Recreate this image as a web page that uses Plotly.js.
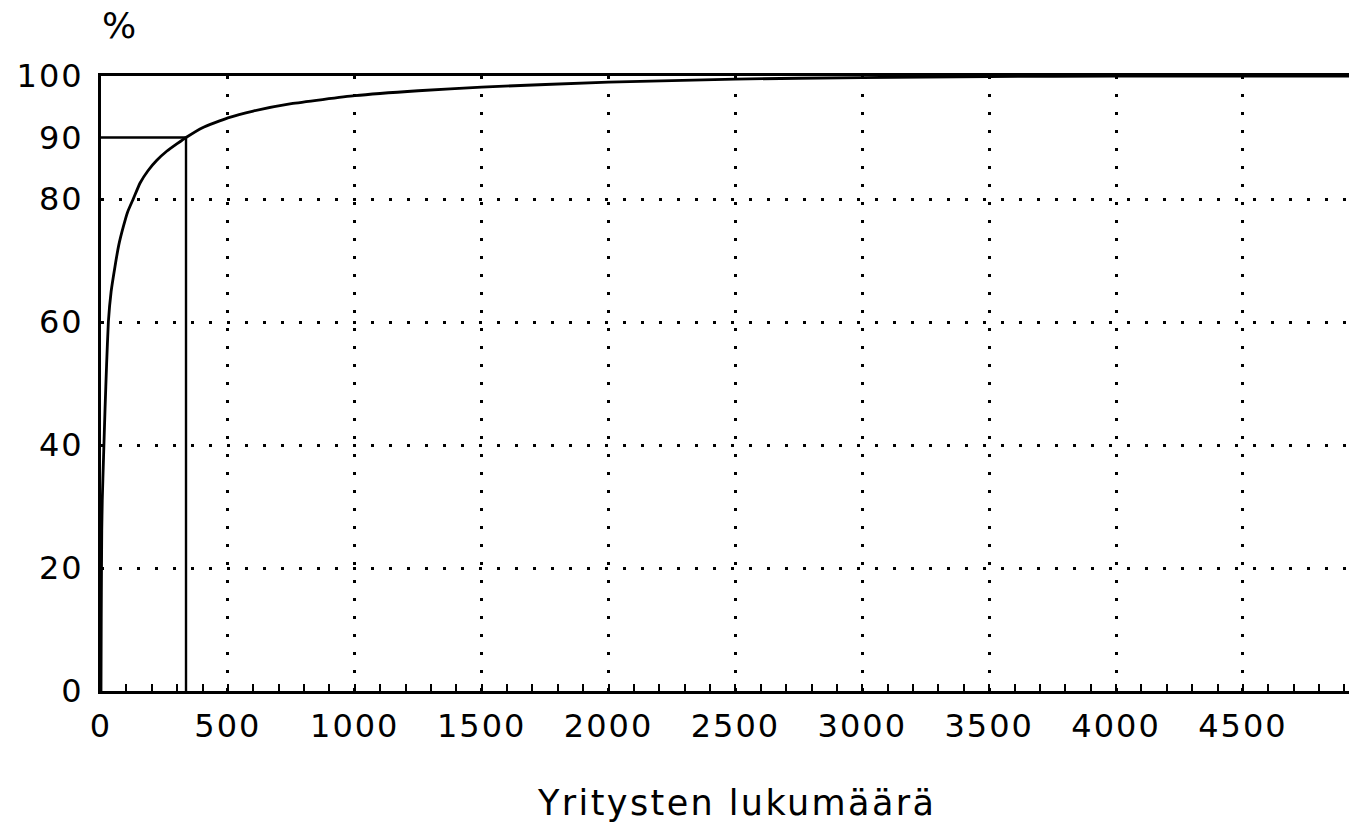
<!DOCTYPE html>
<html><head><meta charset="utf-8">
<script src="https://cdn.plot.ly/plotly-3.0.1.min.js"></script>
<style>
html,body{margin:0;padding:0;background:#fff;}
#chart{width:1349px;height:833px;}
.xtick text,.ytick text{letter-spacing:2px;}
.annotation-text{letter-spacing:2.4px;}
</style></head><body><div id="chart"></div>
<script>
// cumulative share (%) by number of firms
const firms = [0, 1, 2, 3, 5, 10, 16, 22, 29, 40, 55, 70, 88, 105, 127, 154, 185, 220, 260, 300, 335, 400, 500, 600, 750, 1000, 1250, 1500, 2000, 2500, 3000, 3500, 4000, 4500, 4918];
const sharePct = [0, 12, 20, 26, 31, 38, 46, 53, 60, 65, 69, 72.5, 75.5, 77.9, 80, 82.6, 84.6, 86.3, 87.8, 89, 90, 91.6, 93.2, 94.3, 95.5, 96.8, 97.6, 98.2, 99, 99.5, 99.75, 99.9, 100, 100, 100];
// 90 % reference line
const refX = [0, 335, 335];
const refY = [90, 90, 0];
const xTickVals = [0, 500, 1000, 1500, 2000, 2500, 3000, 3500, 4000, 4500];
const xTickText = ['0', '500', '1000', '1500', '2000', '2500', '3000', '3500', '4000', '4500'];
const yTickVals = [0, 20, 40, 60, 80, 90, 100];
const yTickText = ['0', '20', '40', '60', '80', '90', '100'];
const yGridVals = [20, 40, 60, 80];
const xRange = [0, 4918];
const yRange = [0, 100];
const xTitle = 'Yritysten lukumäärä';
const yUnit = '%';

const FONT = '"DejaVu Sans", "Liberation Sans", Arial, sans-serif';
const dots = '3px,15px';

const traces = [
  {x: firms, y: sharePct, type: 'scatter', mode: 'lines', line: {color: '#000', width: 2.8, shape: 'spline', smoothing: 0.4}, hoverinfo: 'skip', xaxis: 'x', yaxis: 'y'},
  {x: refX, y: refY, type: 'scatter', mode: 'lines', line: {color: '#000', width: 2.4}, hoverinfo: 'skip', xaxis: 'x2', yaxis: 'y2'}
];

const layout = {
  width: 1349, height: 833,
  margin: {l: 101, r: 0, t: 76, b: 142},
  paper_bgcolor: '#fff', plot_bgcolor: '#fff',
  showlegend: false,
  font: {family: FONT, color: '#000', size: 32},
  xaxis: {
    range: xRange, tickmode: 'array', tickvals: xTickVals, ticktext: xTickText,
    ticks: 'inside', ticklen: 7, tickwidth: 2, tickcolor: '#000',
    showline: true, linewidth: 3, linecolor: '#000',
    showgrid: true, gridcolor: '#000', gridwidth: 3, griddash: dots,
    zeroline: false, tickfont: {family: FONT, size: 32, color: '#000'},
    ticklabelstandoff: 5,
    minor: {tickmode: 'linear', tick0: 0, dtick: 100, ticks: 'inside', ticklen: 7, tickwidth: 2, tickcolor: '#000', showgrid: false},
    fixedrange: true
  },
  yaxis: {
    range: yRange, tickmode: 'array', tickvals: yTickVals, ticktext: yTickText,
    ticks: '', showline: true, linewidth: 3, linecolor: '#000',
    showgrid: false, zeroline: false,
    tickfont: {family: FONT, size: 32, color: '#000'},
    ticklabelstandoff: 8,
    fixedrange: true
  },
  xaxis2: {
    overlaying: 'x', side: 'top', anchor: 'y2', range: xRange,
    showline: true, linewidth: 3, linecolor: '#000',
    ticks: '', showticklabels: false, showgrid: false, zeroline: false, fixedrange: true
  },
  yaxis2: {
    overlaying: 'y', anchor: 'x2', range: yRange, tickmode: 'array', tickvals: yGridVals,
    showticklabels: false, ticks: '', showline: false, zeroline: false,
    showgrid: true, gridcolor: '#000', gridwidth: 3, griddash: dots, fixedrange: true
  },
  annotations: [
    {text: yUnit, xref: 'paper', yref: 'paper', x: 0, y: 1, xshift: 19, yshift: 51,
     xanchor: 'center', yanchor: 'middle', showarrow: false, font: {family: FONT, size: 36, color: '#000'}},
    {text: xTitle, xref: 'paper', yref: 'paper', x: 0.5, y: 0, xshift: 11, yshift: -112,
     xanchor: 'center', yanchor: 'middle', showarrow: false, font: {family: FONT, size: 35, color: '#000'}}
  ]
};

Plotly.newPlot('chart', traces, layout, {staticPlot: true, displayModeBar: false});
</script>
</body></html>
